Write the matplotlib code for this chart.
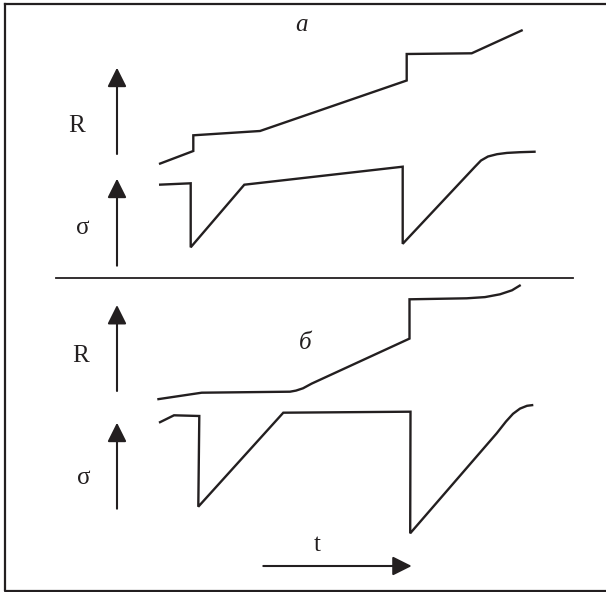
import matplotlib.pyplot as plt

# Схема изменения сопротивления R и напряжения σ во времени
# координаты по горизонтали — время t, по вертикали — уровень (ось вниз, как на листе)

ink = '#231f20'

# --- режим а ---
t_Ra = [159, 193.3, 193.3, 260, 406.7, 406.7, 471.7, 522.7]
Ra = [164, 151, 135.3, 131, 80.5, 54, 53.3, 30]

t_sa = [159, 190.7, 190.7, 244.3, 402.7, 402.7, 475, 481, 488, 497, 507, 520, 535.7]
sa = [184.7, 183.3, 247.3, 184.7, 166.7, 243.8, 166.7, 160.5, 156.5, 154.2, 152.9, 152.2, 151.7]

# --- режим б ---
t_Rb = [157.3, 201.7, 290, 296, 303, 311.7, 409.5, 409.5, 466.7, 485, 500, 512, 520.7]
Rb = [399.3, 392.7, 391.7, 390.6, 388.3, 383.6, 338.6, 299.3, 298.3, 297.1, 294.3, 290.3, 285]

t_sb = [159, 174, 199.3, 198.3, 283.3, 410.5, 410.2, 496.7, 506, 513, 520, 527, 533.3]
sb = [422.7, 415.3, 416, 506.7, 412.7, 411.7, 533.3, 433.3, 421.5, 413.8, 408.6, 405.8, 405]

# оси-стрелки: (x, хвост, остриё)
arrows_v = [(117, 154, 67.7), (117, 265.7, 178.7), (117, 391, 305), (117, 508.7, 422.7)]
arrow_t = (263.3, 411.7, 566)

labels = [('R', 77, 126), ('σ', 83, 228), ('R', 80.7, 356), ('σ', 83.3, 478), ('t', 317.3, 545)]
titles = [('a', 301.7, 25), ('б', 305, 343)]

fig = plt.figure(figsize=(6.06, 5.92), dpi=100)
ax = fig.add_axes([0, 0, 1, 1])
ax.set_xlim(0, 606)
ax.set_ylim(592, 0)
ax.axis('off')

lw = 1.7
for x, y in [(t_Ra, Ra), (t_sa, sa), (t_Rb, Rb), (t_sb, sb)]:
    ax.plot(x, y, color=ink, lw=lw, solid_joinstyle='miter', solid_capstyle='butt')

# разделительная линия и рамка
ax.plot([56, 573.3], [278, 278], color=ink, lw=1.3)
ax.plot([5, 5, 610], [4, 590.5, 590.5], color=ink, lw=1.6)
ax.plot([5, 610], [4, 4], color=ink, lw=1.6)

aprops = dict(arrowstyle='-|>', mutation_scale=29, lw=1.5, color=ink,
              shrinkA=0, shrinkB=0)
for x, y0, y1 in arrows_v:
    ax.annotate('', xy=(x, y1), xytext=(x, y0), arrowprops=aprops)
x0, x1, y = arrow_t
ax.annotate('', xy=(x1, y), xytext=(x0, y), arrowprops=aprops)

for s, x, y in labels:
    ax.text(x, y, s, fontsize=18, family='Liberation Serif', color=ink,
            ha='center', va='center')
for s, x, y in titles:
    ax.text(x, y, s, fontsize=18, family='Liberation Serif', style='italic',
            color=ink, ha='center', va='center')

fig.savefig('out.png', dpi=100)
